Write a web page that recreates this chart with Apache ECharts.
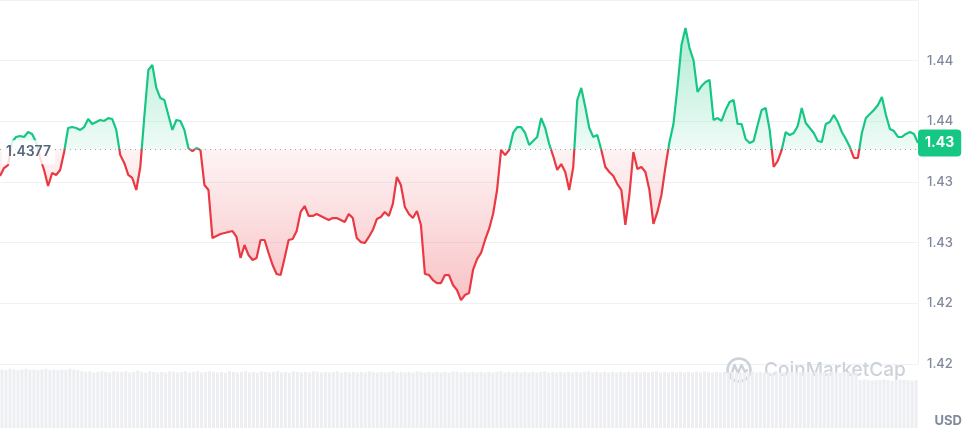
<!DOCTYPE html>
<html><head><meta charset="utf-8">
<script src="https://cdn.jsdelivr.net/npm/echarts@6/dist/echarts.min.js"></script>
<style>html,body{margin:0;padding:0;background:#fff}#c{width:972px;height:436px}</style>
</head><body><div id="c"></div>
<script>
const baseline = 1.4377;
const baselineLabel = '1.4377';
const priceLabel = '1.43';
const currencyLabel = 'USD';
const watermarkText = 'CoinMarketCap';
const yTickValues = [1.42, 1.425, 1.43, 1.435, 1.44, 1.445];
const yTickLabels = ['1.42', '1.42', '1.43', '1.43', '1.44', '1.44'];

const prices = [
1.43549,1.43615,1.43640,1.43830,1.43871,1.43879,1.43871,1.43912,1.43896,1.43830,
1.43698,1.43599,1.43467,1.43574,1.43558,1.43599,1.43747,1.43945,1.43953,1.43945,
1.43929,1.43953,1.44019,1.43978,1.43994,1.44011,1.44003,1.44027,1.44019,1.43929,
1.43722,1.43657,1.43558,1.43533,1.43434,1.43624,1.44036,1.44423,1.44464,1.44275,
1.44192,1.44176,1.44052,1.43929,1.44011,1.44003,1.43929,1.43780,1.43755,1.43780,
1.43764,1.43475,1.43434,1.43038,1.43055,1.43071,1.43080,1.43088,1.43096,1.43047,
1.42874,1.42981,1.42898,1.42857,1.42874,1.43022,1.43022,1.42915,1.42816,1.42742,
1.42733,1.42874,1.43022,1.43030,1.43096,1.43253,1.43302,1.43220,1.43220,1.43236,
1.43220,1.43203,1.43187,1.43203,1.43203,1.43187,1.43170,1.43236,1.43203,1.43038,
1.43005,1.42997,1.43047,1.43104,1.43195,1.43212,1.43253,1.43220,1.43319,1.43541,
1.43475,1.43294,1.43236,1.43203,1.43261,1.43146,1.42742,1.42733,1.42692,1.42667,
1.42667,1.42733,1.42733,1.42651,1.42610,1.42527,1.42569,1.42585,1.42775,1.42865,
1.42915,1.43022,1.43113,1.43236,1.43434,1.43764,1.43722,1.43764,1.43904,1.43953,
1.43953,1.43904,1.43805,1.43838,1.43871,1.44027,1.43945,1.43813,1.43714,1.43599,
1.43648,1.43582,1.43434,1.43624,1.44176,1.44275,1.44118,1.43945,1.43871,1.43887,
1.43764,1.43624,1.43582,1.43549,1.43483,1.43434,1.43146,1.43393,1.43747,1.43607,
1.43624,1.43582,1.43434,1.43154,1.43253,1.43393,1.43624,1.43830,1.43978,1.44283,
1.44629,1.44769,1.44604,1.44505,1.44242,1.44291,1.44324,1.44341,1.44011,1.44027,
1.44003,1.44093,1.44159,1.44176,1.43978,1.43978,1.43854,1.43821,1.43838,1.43970,
1.44093,1.44110,1.43929,1.43624,1.43673,1.43764,1.43912,1.43887,1.43904,1.43961,
1.44110,1.43986,1.43945,1.43904,1.43838,1.43830,1.43978,1.43994,1.44052,1.43994,
1.43912,1.43854,1.43788,1.43698,1.43698,1.43904,1.44027,1.44060,1.44093,1.44135,
1.44201,1.44052,1.43937,1.43920,1.43871,1.43871,1.43896,1.43912,1.43896,1.43821
];

const volumes = [
93,92,94,93,92,93,94,92,93,92, 93,94,92,93,92,93,92,94,93,92,
90,89,90,88,89,90,89,88,90,89, 89,90,88,89,91,89,88,90,89,88,
89,88,90,89,88,89,90,88,89,90, 88,89,90,89,88,89,88,90,89,88,
89,90,88,89,88,90,89,88,89,90, 88,89,88,90,89,88,89,88,90,89,
88,89,88,89,90,88,89,88,89,88, 89,88,90,89,88,89,88,89,90,88,
89,88,89,88,90,89,88,89,88,89, 88,89,88,90,89,88,89,88,89,88,
89,88,89,88,89,90,88,89,88,89, 88,89,88,89,88,89,90,88,89,88,
89,88,89,88,89,88,89,90,88,89, 88,89,88,89,88,89,88,89,88,89,
88,89,88,89,90,88,89,88,89,88, 89,88,89,88,89,88,90,89,88,89,
88,89,88,89,88,89,88,89,90,88, 89,88,89,88,89,88,89,88,89,88,
89,88,89,88,89,88,89,88,89,88, 88,89,88,89,88,76,77,76,75,76,
76,77,76,75,76,77,76,76,75,76
];

const categories = prices.map((_, i) => String(i));

const GREEN = '#16c784', RED = '#ea3943';
const maxP = Math.max(...prices), minP = Math.min(...prices);
const frac = (maxP - baseline) / (maxP - minP);

const chart = echarts.init(document.getElementById('c'), null, {renderer: 'canvas'});
const option = {
  animation: false,
  backgroundColor: '#fff',
  grid: [
    {left: 0, right: 54, top: 0, bottom: 72},
    {left: 0, right: 54, top: 365, bottom: 8}
  ],
  xAxis: [
    {type: 'category', gridIndex: 0, data: categories, boundaryGap: false, show: false},
    {type: 'category', gridIndex: 1, data: categories, boundaryGap: true, show: false}
  ],
  yAxis: [
    {
      type: 'value', gridIndex: 0, position: 'right', min: 1.42, max: 1.45, interval: 0.005,
      axisLine: {show: true, lineStyle: {color: '#eff2f5'}},
      axisTick: {show: false},
      splitLine: {show: true, lineStyle: {color: '#eff2f5', width: 1}},
      axisLabel: {
        showMaxLabel: false, margin: 9, color: '#808a9d', fontSize: 13, fontWeight: 500,
        fontFamily: 'Inter',
        formatter: v => { const k = yTickValues.findIndex(t => Math.abs(t - v) < 1e-7); return k >= 0 ? yTickLabels[k] : ''; }
      }
    },
    {type: 'value', gridIndex: 1, min: 0, max: 100, show: false}
  ],
  series: [
    {
      type: 'line', xAxisIndex: 0, yAxisIndex: 0, data: prices, showSymbol: false, z: 3,
      lineStyle: {
        width: 2.2,
        color: new echarts.graphic.LinearGradient(0, 0, 0, 1, [
          {offset: 0, color: GREEN}, {offset: frac, color: GREEN},
          {offset: frac, color: RED}, {offset: 1, color: RED}
        ])
      },
      areaStyle: {
        origin: baseline, opacity: 1,
        color: new echarts.graphic.LinearGradient(0, 0, 0, 1, [
          {offset: 0, color: 'rgba(22,199,132,0.34)'},
          {offset: frac, color: 'rgba(22,199,132,0.07)'},
          {offset: frac, color: 'rgba(234,57,67,0.06)'},
          {offset: 1, color: 'rgba(234,57,67,0.30)'}
        ])
      },
      markLine: {
        silent: true, symbol: ['none', 'none'], animation: false, precision: 6,
        data: [
          {yAxis: baseline, lineStyle: {type: [1, 4], color: '#9aa3b5', width: 1.2}, label: {show: false}},
          {yAxis: prices[prices.length - 1], lineStyle: {color: 'rgba(0,0,0,0)', width: 0},
            label: {show: true, position: 'end', distance: 0, formatter: priceLabel,
              backgroundColor: GREEN, color: '#fff', fontFamily: 'Inter', fontWeight: 700,
              fontSize: 14, lineHeight: 15, padding: [6, 7, 6, 7], borderRadius: 4}}
        ]
      }
    },
    {
      type: 'bar', xAxisIndex: 1, yAxisIndex: 1, data: volumes, silent: true,
      barCategoryGap: '25%', itemStyle: {color: '#eceef2'}
    }
  ]
};
chart.setOption(option);

const yb = chart.convertToPixel({yAxisIndex: 0}, baseline);
chart.setOption({
  graphic: [
    {type: 'text', z: 100, x: 2, y: yb + 3,
      style: {text: baselineLabel, fill: '#58667e', font: '600 14px Inter',
        backgroundColor: 'rgba(255,255,255,0.82)', padding: [5, 4, 5, 4], verticalAlign: 'middle', align: 'left'}},
    {type: 'text', z: 100, right: 10, bottom: 8,
      style: {text: currencyLabel, fill: '#808a9d', font: '700 13px Inter'}},
    {type: 'group', z: 50, left: 725, top: 356, children: [
      {type: 'circle', shape: {cx: 13, cy: 13, r: 11.5}, style: {fill: 'none', stroke: '#cdd1d9', lineWidth: 2.6}},
      {type: 'polyline', shape: {points: [[5, 18], [8.5, 8], [12, 16], [15.5, 8], [19, 15], [21, 13]]},
        style: {fill: 'none', stroke: '#cdd1d9', lineWidth: 2.4, lineJoin: 'round', lineCap: 'round'}},
      {type: 'text', x: 38, y: 13, style: {text: watermarkText, fill: '#cdd1d9', font: '500 19px Inter', verticalAlign: 'middle'}}
    ]}
  ]
});
</script></body></html>
